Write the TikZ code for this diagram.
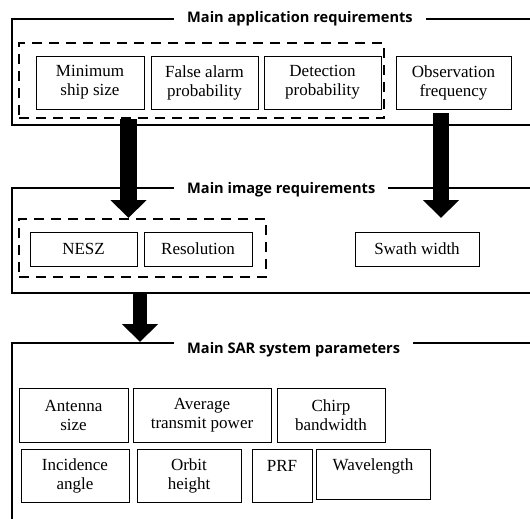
\documentclass[tikz,border=0pt]{standalone}
\usepackage{fontspec}
\setmainfont{Liberation Serif}
\newfontfamily\titlefont{Open Sans}
\usetikzlibrary{arrows.meta,calc}

\tikzset{
  frameline/.style={line width=2pt},
  boxnode/.style={draw, line width=0.9pt, align=center, inner sep=0pt,
    font=\rmfamily\fontsize{17}{19}\selectfont},
  groupbox/.style={draw, line width=2.4pt, dash pattern=on 10pt off 7pt, inner sep=0pt},
  titlenode/.style={fill=white, inner xsep=13pt, inner ysep=2pt, anchor=base west,
    font=\titlefont\bfseries\fontsize{14.6}{17}\selectfont},
  bigarrow/.style={-{Triangle[width=35pt,length=18pt]}},
}

\begin{document}
\begin{tikzpicture}[x=1pt, y=-1pt]
\useasboundingbox (0,0) rectangle (530,519);
\clip (0,0) rectangle (530,519);

% ---- section frames (open to the right) ----
\draw[frameline] (545,19) -- (12,19) -- (12,125) -- (545,125);
\draw[frameline] (545,188) -- (12,188) -- (12,293) -- (545,293);
\draw[frameline] (545,343) -- (12,343) -- (12,530);
\coordinate (f2bottom) at (12,293);

% ---- section titles ----
\node[titlenode] (t1) at (174,22.5) {Main application requirements};
\node[titlenode] (t2) at (174,193.5) {Main image requirements};
\node[titlenode] (t3) at (174,353.5) {Main SAR system parameters};

% ---- application requirements ----
\node[groupbox, minimum width=365pt, minimum height=75pt] (d1) at (201.5,80.5) {};
\node[boxnode, minimum width=108pt, minimum height=53pt] (minsize) at (90,82.5) {Minimum\\ship size};
\node[boxnode, minimum width=107pt, minimum height=53pt] (falarm) at (204.5,82.5) {False alarm\\probability};
\node[boxnode, minimum width=117pt, minimum height=53pt] (detect) at (322.5,82.5) {Detection\\probability};
\node[boxnode, minimum width=115pt, minimum height=53pt] (obsfreq) at (453.5,82.5) {Observation\\frequency};

% ---- image requirements ----
\node[groupbox, minimum width=247pt, minimum height=58pt] (d2) at (142.5,248) {};
\node[boxnode, minimum width=107pt, minimum height=34pt] (nesz) at (83.5,249) {NESZ};
\node[boxnode, minimum width=108pt, minimum height=34pt] (resol) at (198,249) {Resolution};
\node[boxnode, minimum width=124pt, minimum height=34pt] (swath) at (417,249) {Swath width};

% ---- SAR system parameters ----
\node[boxnode, minimum width=109pt, minimum height=54pt] (antenna) at (73.5,415) {Antenna\\size};
\node[boxnode, minimum width=138pt, minimum height=54pt] (power) at (202,415) {Average\\transmit power};
\node[boxnode, minimum width=108pt, minimum height=54pt] (chirp) at (331,415) {Chirp\\bandwidth};
\node[boxnode, minimum width=108pt, minimum height=53pt] (incid) at (75,475.5) {Incidence\\angle};
\node[boxnode, minimum width=104pt, minimum height=53pt] (orbit) at (189,475.5) {Orbit\\height};
\node[boxnode, minimum width=60pt, minimum height=53pt] (prf) at (282,475.5) {PRF\\\phantom{X}};
\node[boxnode, minimum width=114pt, minimum height=50pt] (wavel) at (373,474) {Wavelength\\\phantom{X}};

% ---- flow arrows ----
\coordinate (a1tip) at (128.5,218);
\coordinate (a2tip) at (441,218);
\coordinate (a3tip) at (140,342);
\draw[bigarrow, line width=17pt] (d1.south -| a1tip) -- (a1tip);
\draw[bigarrow, line width=16pt, shorten <=4pt] (obsfreq.south -| a2tip) -- (a2tip);
\draw[bigarrow, line width=14pt] (a3tip |- f2bottom) -- (a3tip);
\end{tikzpicture}
\end{document}
